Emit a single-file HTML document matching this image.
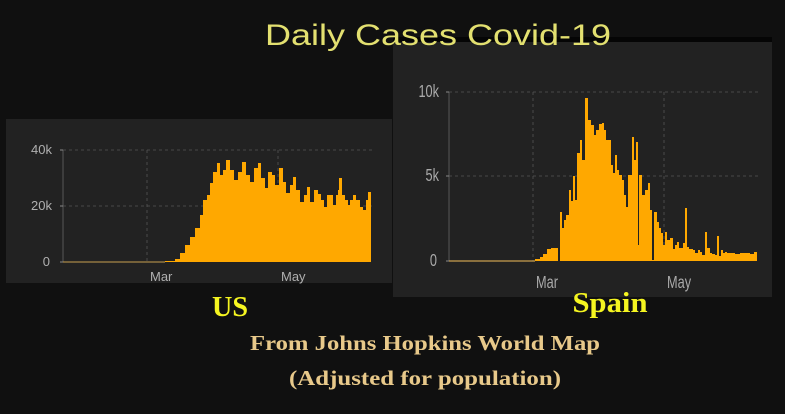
<!DOCTYPE html>
<html><head><meta charset="utf-8"><style>
html,body{margin:0;padding:0;background:#101010;width:785px;height:414px;overflow:hidden}
svg{display:block}
</style></head><body>
<svg width="785" height="414" viewBox="0 0 785 414" xmlns="http://www.w3.org/2000/svg">
<rect width="785" height="414" fill="#101010"/>
<!-- US panel -->
<rect x="6" y="119" width="386" height="164" fill="#222222"/>
<g stroke="#555" stroke-dasharray="3,3" stroke-width="0.8">
<line x1="63" y1="150" x2="372" y2="150"/><line x1="63" y1="206" x2="372" y2="206"/>
<line x1="147" y1="150" x2="147" y2="262"/><line x1="278" y1="150" x2="278" y2="262"/>
</g>
<line x1="63" y1="150" x2="63" y2="262" stroke="#666" stroke-width="0.8"/>
<line x1="60" y1="150" x2="63" y2="150" stroke="#888"/><line x1="60" y1="206" x2="63" y2="206" stroke="#888"/><line x1="60" y1="262" x2="63" y2="262" stroke="#888"/>
<g font-family="Liberation Sans, sans-serif" font-size="13" fill="#b0b0b0">
<text x="52" y="154" text-anchor="end">40k</text><text x="52" y="210" text-anchor="end">20k</text><text x="50" y="266" text-anchor="end">0</text>
<text x="150" y="281">Mar</text><text x="281" y="281">May</text>
</g>
<line x1="63" y1="262" x2="165" y2="262" stroke="#c8a050" stroke-width="1"/>
<path fill="#ffa800" d="M165 262 V261 H175 V259 H180 V253 H185 V245 H190 V237 H195 V228 H200 V215 H203 V200 H207 V195 H210 V183 H213 V172 H217 V163 H220 V175 H223 V170 H226 V160 H230 V170 H234 V180 H238 V172 H242 V162 H246 V175 H250 V182 H254 V168 H258 V163 H261 V178 H265 V188 H268 V172 H272 V175 H275 V185 H279 V168 H283 V182 H286 V193 H290 V185 H293 V177 H296 V190 H300 V202 H304 V195 H307 V187 H310 V202 H314 V190 H318 V194 H321 V200 H324 V207 H327 V195 H330 V195 H333 V205 H336 V195 H338 V190 H339 V178 H342 V195 H345 V200 H348 V205 H350 V200 H353 V195 H356 V200 H360 V207 H363 V210 H366 V200 H368 V192 H371 V262 Z"/>
<!-- Spain panel -->
<rect x="393" y="37" width="379" height="5" fill="#050505"/>
<rect x="393" y="42" width="379" height="255" fill="#222222"/>
<g stroke="#555" stroke-dasharray="3,3" stroke-width="0.8">
<line x1="449" y1="92" x2="758" y2="92"/><line x1="449" y1="176" x2="758" y2="176"/>
<line x1="533" y1="92" x2="533" y2="261"/><line x1="664" y1="92" x2="664" y2="261"/>
</g>
<line x1="449" y1="92" x2="449" y2="261" stroke="#666" stroke-width="0.8"/>
<line x1="446" y1="92" x2="449" y2="92" stroke="#888"/><line x1="446" y1="176" x2="449" y2="176" stroke="#888"/><line x1="446" y1="261" x2="449" y2="261" stroke="#888"/>
<g font-family="Liberation Sans, sans-serif" font-size="15" fill="#aaa">
<text x="439" y="97" text-anchor="end" transform="translate(439 97) scale(0.85 1.15) translate(-439 -97)">10k</text>
<text x="439" y="181" text-anchor="end" transform="translate(439 181) scale(0.85 1.15) translate(-439 -181)">5k</text>
<text x="437" y="266" text-anchor="end" transform="translate(437 266) scale(0.85 1.15) translate(-437 -266)">0</text>
<text x="536" y="288" transform="translate(536 288) scale(0.85 1.15) translate(-536 -288)">Mar</text>
<text x="667" y="288" transform="translate(667 288) scale(0.85 1.15) translate(-667 -288)">May</text>
</g>
<line x1="449" y1="261" x2="535" y2="261" stroke="#c8a050" stroke-width="1.2"/>
<path fill="#ffa800" d="M535 261 V259 H540 V257 H543 V254 H547 V249 H551 V248 H558 V261 H560 V212 H562 V228 H564 V220 H566 V215 H569 V190 H571 V201 H573 V176 H575 V200 H577 V153 H580 V140 H582 V160 H585 V98 H588 V120 H591 V125 H594 V135 H596 V130 H599 V124 H602 V123 H604 V130 H606 V140 H609 V140 H611 V165 H613 V173 H615 V155 H617 V170 H619 V175 H622 V180 H624 V195 H626 V207 H628 V175 H632 V137 H634 V160 H636 V142 H638 V245 H639 V175 H642 V195 H645 V190 H648 V183 H650 V210 H652 V260 H654 V212 H657 V222 H659 V228 H661 V233 H663 V245 H665 V232 H667 V240 H670 V238 H673 V249 H675 V245 H677 V242 H679 V248 H683 V243 H685 V208 H687 V247 H689 V249 H693 V250 H695 V253 H698 V250 H700 V252 H702 V255 H705 V232 H707 V248 H710 V253 H712 V254 H715 V255 H717 V236 H719 V256 H721 V250 H723 V253 H725 V252 H727 V253 H735 V254 H740 V253 H750 V254 H754 V252 H757 V261 Z"/>
<!-- text -->
<text x="438" y="45" text-anchor="middle" font-family="Liberation Sans, sans-serif" font-size="30" fill="#e3e070" textLength="346" lengthAdjust="spacingAndGlyphs">Daily Cases Covid-19</text>
<text x="230" y="316" text-anchor="middle" font-family="Liberation Serif, serif" font-weight="bold" font-size="28" fill="#f5f520" textLength="36" lengthAdjust="spacingAndGlyphs">US</text>
<text x="610" y="312" text-anchor="middle" font-family="Liberation Serif, serif" font-weight="bold" font-size="28" fill="#f5f520" textLength="75" lengthAdjust="spacingAndGlyphs">Spain</text>
<text x="425" y="350" text-anchor="middle" font-family="Liberation Serif, serif" font-weight="bold" font-size="21" fill="#e8c98a" textLength="350" lengthAdjust="spacingAndGlyphs">From Johns Hopkins World Map</text>
<text x="425" y="385" text-anchor="middle" font-family="Liberation Serif, serif" font-weight="bold" font-size="21" fill="#e8c98a" textLength="272" lengthAdjust="spacingAndGlyphs">(Adjusted for population)</text>
</svg>
</body></html>
